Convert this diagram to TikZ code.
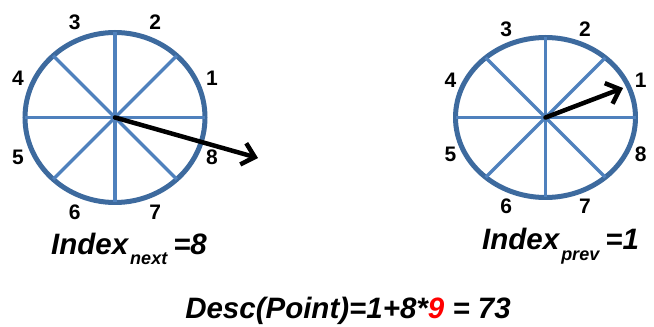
\documentclass[tikz,border=0pt]{standalone}
\usepackage{fontspec}
\setmainfont{Liberation Sans}
\usepackage{tikz}
\usetikzlibrary{arrows.meta, shapes.geometric, calc}

\definecolor{rimblue}{HTML}{3D6A9E}
\definecolor{spokeblue}{HTML}{4F81BD}

\newcommand{\subidx}[1]{\raisebox{-10pt}{\fontsize{18}{20}\selectfont #1}}

\begin{document}
\begin{tikzpicture}[
    x=1pt, y=1pt,
    wheel/.style={draw=rimblue, line width=5pt, ellipse, inner sep=0pt, outer sep=0pt},
    spoke/.style={draw=spokeblue, line width=3.5pt},
    num/.style={font=\fontsize{21}{23}\selectfont\bfseries, inner sep=0pt},
    pointer/.style={-{Straight Barb[length=12pt, width=22pt]}, line width=4.5pt, line cap=round},
    eqn/.style={font=\fontsize{29.5}{32}\selectfont\bfseries\itshape, inner sep=0pt}
]

\useasboundingbox (0,0) rectangle (654,327);

% Wheels
\node[wheel, minimum width=180pt, minimum height=170pt] (wheelL) at (115,209.5) {};
\node[wheel, minimum width=180pt, minimum height=160pt] (wheelR) at (545.5,209.5) {};

% Spokes
\foreach \w in {wheelL, wheelR} {
  \foreach \a in {0,45,90,135}
    \draw[spoke] (\w.\a) -- (\w.\a+180);
}

% Sector numbers
\foreach \i in {1,...,8} {
  \node[num] (numL\i) at ($(wheelL.center)+({22.5+45*(\i-1)}:105 and 103)$) {\i};
  \node[num] (numR\i) at ($(wheelR.center)+({22.5+45*(\i-1)}:103 and 96)$) {\i};
}

% Pointers
\coordinate (tipL) at (258,169);
\coordinate (tipR) at (623,239);
\draw[pointer] (wheelL.center) -- (tipL);
\draw[pointer] (wheelR.center) -- (tipR);

% Labels
\node[eqn, anchor=base west] (idxL) at (51,72) {Index\hspace{2pt}\subidx{next}\hspace{6pt}=8};
\node[eqn, anchor=base west] (idxR) at (482,77) {Index\hspace{2pt}\subidx{prev}\hspace{6pt}=1};
\node[eqn, anchor=base] (desc) at (348,9) {Desc(Point)=1+8*\textcolor{red}{9} = 73};

\end{tikzpicture}
\end{document}
